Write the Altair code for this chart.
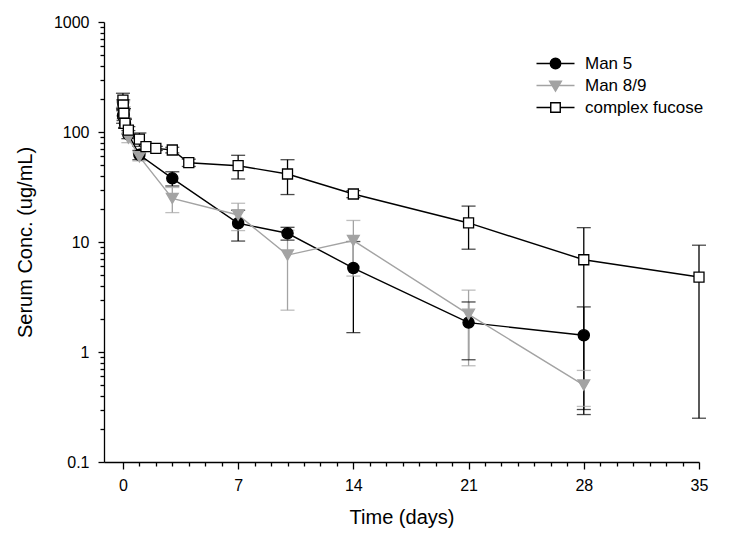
import altair as alt
import pandas as pd

series_names = ["Man 5", "Man 8/9", "complex fucose"]

man5_t = [0.01, 0.04, 0.125, 0.33, 1, 3, 7, 10, 14, 21, 28]
man5_v = [140, 145, 120, 95, 62, 37.9, 14.8, 12.0, 5.8, 1.85, 1.42]
man5_sd = [20, 18, 10, 8, 6, 5.6, 4.6, 1.6, 4.3, 1.0, 1.15]

man89_t = [0.01, 0.04, 0.125, 0.33, 1, 3, 7, 10, 14, 21, 28]
man89_v = [165, 150, 120, 88, 59.6, 24.9, 17.6, 7.6, 10.3, 2.2, 0.5]
man89_sd = [25, 20, 12, 8, 5, 6.4, 4.9, 5.2, 5.4, 1.45, 0.18]

cf_t = [0.0, 0.02, 0.06, 0.125, 0.33, 1, 1.4, 2, 3, 4, 7, 10, 14, 21, 28, 35]
cf_v = [195, 176, 148, 120, 104, 86, 73.5, 71, 68.6, 52.6, 49.4, 41.5, 27.3, 14.9, 6.9, 4.8]
cf_sd = [30, 20, 15, 12, 8, 12, 4, 3, 4, 4, 12, 14.5, 2, 6.3, 6.6, 4.55]

x_ticks = list(range(0, 36))
y_ticks = [m * 10.0 ** e for e in range(-1, 3) for m in range(1, 10)] + [1000]

colors = ["#000000", "#a3a3a3", "#000000"]
fills = ["#000000", "#a3a3a3", "#ffffff"]
shapes = ["circle", "triangle-down", "square"]

rows = []
for name, ts, vs, sds in [
    ("Man 5", man5_t, man5_v, man5_sd),
    ("Man 8/9", man89_t, man89_v, man89_sd),
    ("complex fucose", cf_t, cf_v, cf_sd),
]:
    for t, v, s in zip(ts, vs, sds):
        rows.append({"series": name, "t": t, "v": v, "lo": v - s, "hi": v + s})
df = pd.DataFrame(rows)

FONT = "Liberation Sans"

x_scale = alt.Scale(domain=[-1.15, 35], nice=False, zero=False)
y_scale = alt.Scale(type="log", domain=[0.1, 1000], nice=False)

dec_test = "abs(log(datum.value)/LN10 - round(log(datum.value)/LN10)) < 0.001"

x_axis = alt.Axis(
    values=x_ticks,
    labelExpr="datum.value % 7 == 0 ? datum.label : ''",
    tickSize={"condition": {"test": "datum.value % 7 == 0", "value": 7}, "value": 4},
    labelOverlap=False, labelFlush=False, grid=False,
    title="Time (days)", titleFontSize=20, titleFontWeight="normal", titlePadding=14,
    labelFontSize=16, labelPadding=8,
)
y_axis = alt.Axis(
    values=y_ticks, format="~g",
    labelExpr=dec_test + " ? datum.label : ''",
    tickSize={"condition": {"test": dec_test, "value": 6}, "value": 4},
    labelOverlap=False, labelFlush=False, grid=False,
    title="Serum Conc. (ug/mL)", titleFontSize=20, titleFontWeight="normal", titlePadding=18,
    labelFontSize=16, labelPadding=9,
)

X = alt.X("t:Q", scale=x_scale, axis=x_axis)
color_scale = alt.Scale(domain=series_names, range=colors)
color_enc = alt.Color("series:N", scale=color_scale, legend=None)

base = alt.Chart(df)

p1 = "M-2,0L2,0M-0.55,0A0.55,0.55,0,1,1,0.55,0A0.55,0.55,0,1,1,-0.55,0Z"
p2 = "M-2,0L2,0M-0.62,-0.45L0.62,-0.45L0,0.6Z"
p3 = "M-2,0L-0.5,0M0.5,0L2,0M-0.5,-0.5L0.5,-0.5L0.5,0.5L-0.5,0.5Z"

legend = alt.Legend(
    title=None, orient="none", legendX=441, legendY=31,
    labelFontSize=17, labelFont=FONT, labelOffset=19, rowPadding=3,
    symbolSize=361, symbolStrokeWidth=1.4, symbolOpacity=1,
)

# invisible layer that only carries the legend
legend_layer = base.mark_point(
    filled=True, opacity=0, strokeWidth=1.4
).encode(
    x=X, y=alt.Y("v:Q", scale=y_scale, axis=y_axis),
    shape=alt.Shape("series:N", scale=alt.Scale(domain=series_names, range=[p1, p2, p3]), legend=legend),
    fill=alt.Fill("series:N", scale=alt.Scale(domain=series_names, range=fills), legend=legend),
    stroke=alt.Stroke("series:N", scale=alt.Scale(domain=series_names, range=colors), legend=legend),
)

err = base.mark_rule(strokeWidth=1.3).encode(
    x=X, y=alt.Y("lo:Q", scale=y_scale), y2="hi:Q", color=color_enc
)
cap_lo = base.mark_tick(orient="horizontal", size=14, thickness=1.3).encode(
    x=X, y=alt.Y("lo:Q", scale=y_scale), color=color_enc
)
cap_hi = base.mark_tick(orient="horizontal", size=14, thickness=1.3).encode(
    x=X, y=alt.Y("hi:Q", scale=y_scale), color=color_enc
)
lines = base.mark_line(strokeWidth=1.4).encode(
    x=X, y=alt.Y("v:Q", scale=y_scale), color=color_enc, detail="series:N"
)

point_layers = []
for name, shp, fc, sc, sz in zip(series_names, shapes, fills, colors, [125, 140, 100]):
    point_layers.append(
        base.transform_filter(alt.datum.series == name).mark_point(
            shape=shp, filled=True, fill=fc, stroke=sc, opacity=1, size=sz, strokeWidth=1.3
        ).encode(x=X, y=alt.Y("v:Q", scale=y_scale))
    )

chart = alt.layer(legend_layer, err, cap_lo, cap_hi, lines, *point_layers).properties(
    width=595, height=440,
    autosize=alt.AutoSizeParams(type="none"),
    padding={"left": 96, "top": 14, "right": 30, "bottom": 70},
).configure_view(stroke=None).configure_axis(
    labelFont=FONT, titleFont=FONT, domainColor="black", tickColor="black",
    domainWidth=1.3, tickWidth=1.3, labelColor="black", titleColor="black",
).configure_legend(labelColor="black")

chart.save("out.html", embed_options={"renderer": "svg", "actions": False})
